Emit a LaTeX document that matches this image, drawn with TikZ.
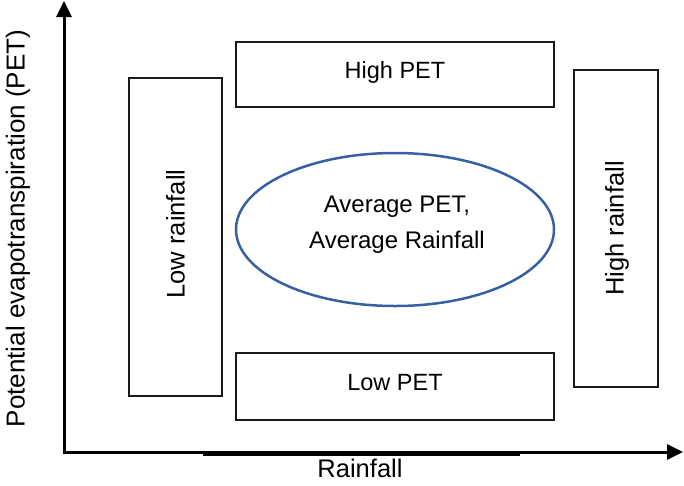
\documentclass[tikz,border=0pt]{standalone}
\usepackage{fontspec}
\setmainfont{Liberation Sans}
\usetikzlibrary{arrows.meta,shapes.geometric}
\definecolor{ellblue}{HTML}{3760A2}
\definecolor{boxline}{HTML}{1A1A1A}
\tikzset{
  axis/.style={line width=3pt, -{Triangle[length=16pt,width=15pt]}},
  zonebox/.style={draw=boxline, line width=2pt, rectangle, inner sep=0pt},
  zonetext/.style={font=\fontsize{23.5}{28}\selectfont, inner sep=0pt},
  sidetext/.style={font=\fontsize{25.5}{30}\selectfont, inner sep=0pt, rotate=90},
  avgtext/.style={font=\fontsize{24}{28}\selectfont, inner sep=0pt, anchor=base},
  avgell/.style={draw=ellblue, line width=2.5pt, ellipse, inner sep=0pt}
}
\begin{document}
\begin{tikzpicture}[x=1pt,y=-1pt]
\useasboundingbox (0,0) rectangle (684,485);
% axes
\coordinate (oy) at (64,453.5);
\coordinate (ytip) at (64,1);
\coordinate (ox) at (62.5,452);
\coordinate (xtip) at (683,452);
\coordinate (seg1) at (203,454);
\coordinate (seg2) at (520,454);
\draw[axis] (oy) -- (ytip);
\draw[axis] (ox) -- (xtip);
\draw[line width=3pt] (seg1) -- (seg2);
% boxes
\node[zonebox, minimum width=318pt, minimum height=65pt] (hpet) at (395,74.5) {};
\node[zonebox, minimum width=318pt, minimum height=67pt] (lpet) at (395,386.5) {};
\node[zonebox, minimum width=93pt, minimum height=318pt] (lrain) at (175.5,237) {};
\node[zonebox, minimum width=84pt, minimum height=317pt] (hrain) at (616,228.5) {};
\node[avgell, minimum width=318pt, minimum height=153pt] (avg) at (395,229.5) {};
% texts
\node[zonetext] (hpett) at ([yshift=2pt]hpet.center) {High PET};
\node[zonetext] (lpett) at ([yshift=4pt]lpet.center) {Low PET};
\node[sidetext] (lraint) at ([yshift=3pt]lrain.center) {Low rainfall};
\node[sidetext] (hraint) at ([xshift=1pt]hrain.center) {High rainfall};
\node[avgtext] (avg1) at (397,212) {Average PET,};
\node[avgtext] (avg2) at (397,248.5) {Average Rainfall};
\node[font=\fontsize{25.5}{30}\selectfont, inner sep=0pt, anchor=base] (xlab) at (360,477) {Rainfall};
\node[font=\fontsize{26}{30}\selectfont, inner sep=0pt, rotate=90] (ylab) at (18,228.5) {Potential evapotranspiration (PET)};
\end{tikzpicture}
\end{document}
